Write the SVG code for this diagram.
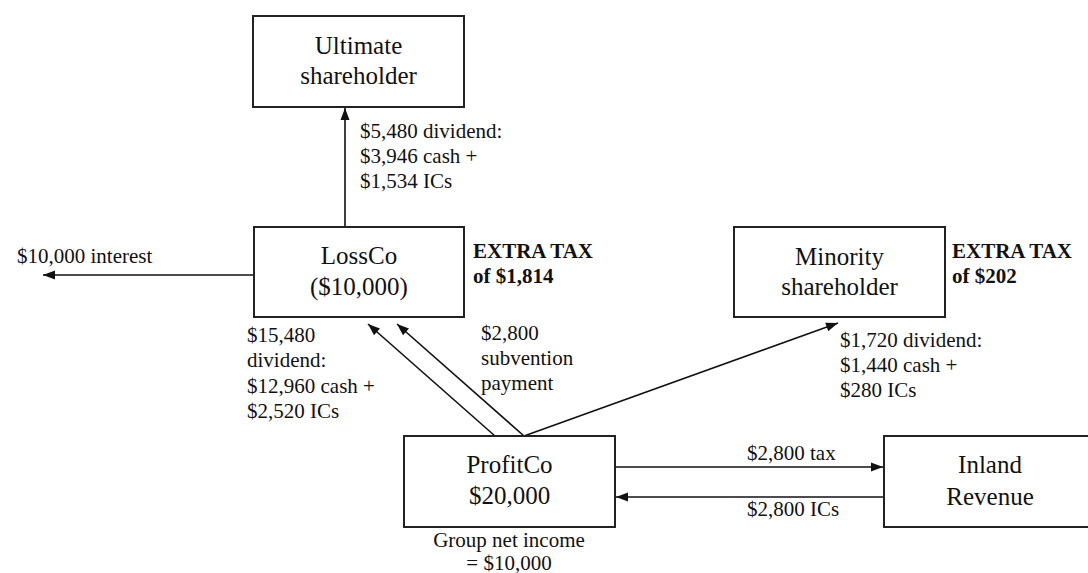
<svg xmlns="http://www.w3.org/2000/svg" width="1088" height="573" viewBox="0 0 1088 573">
  <style>
    .box { fill: #fff; stroke: #222; stroke-width: 2; }
    .node { font-family: "Liberation Serif", "Times New Roman", serif; font-size: 25px; fill: #111; text-anchor: middle; }
    .lbl { font-family: "Liberation Serif", "Times New Roman", serif; font-size: 21px; fill: #111; }
    .bold { font-weight: bold; }
    .edge { stroke: #111; stroke-width: 1.6; fill: none; marker-end: url(#arrow); }
  </style>
  <defs>
    <!-- filled triangular head, 12 long x 9 wide -->
    <marker id="arrow" viewBox="0 0 12 9" refX="12" refY="4.5" markerWidth="12" markerHeight="9" markerUnits="userSpaceOnUse" orient="auto" overflow="visible">
      <path d="M0,0 L12,4.5 L0,9 z" fill="#111"/>
    </marker>
  </defs>
  <rect width="1088" height="573" fill="#fff"/>

  <g id="connectors">
    <line class="edge" x1="345" y1="227" x2="345" y2="108"/>
    <line class="edge" x1="254" y1="275" x2="43" y2="275"/>
    <line class="edge" x1="495" y1="436" x2="368" y2="324"/>
    <line class="edge" x1="524" y1="436" x2="397" y2="324"/>
    <line class="edge" x1="524" y1="436" x2="838" y2="323"/>
    <line class="edge" x1="615" y1="467" x2="883" y2="467"/>
    <line class="edge" x1="884" y1="497" x2="616" y2="497"/>
  </g>

  <g id="ultimate-shareholder">
    <rect class="box" x="253" y="16" width="211" height="91"/>
    <text class="node" x="358.5" y="54">Ultimate</text>
    <text class="node" x="358.5" y="84">shareholder</text>
  </g>

  <g id="lossco">
    <rect class="box" x="254" y="227" width="210" height="90"/>
    <text class="node" x="359" y="264">LossCo</text>
    <text class="node" x="359" y="295">($10,000)</text>
  </g>

  <g id="minority-shareholder">
    <rect class="box" x="734" y="227" width="211" height="90"/>
    <text class="node" x="839.5" y="265">Minority</text>
    <text class="node" x="839.5" y="295">shareholder</text>
  </g>

  <g id="profitco">
    <rect class="box" x="404" y="436" width="211" height="91"/>
    <text class="node" x="509.5" y="473">ProfitCo</text>
    <text class="node" x="509.5" y="504">$20,000</text>
  </g>

  <g id="inland-revenue">
    <rect class="box" x="884" y="436" width="230" height="91"/>
    <text class="node" x="990" y="473">Inland</text>
    <text class="node" x="990" y="505">Revenue</text>
  </g>

  <g id="labels">
    <text class="lbl" x="360" y="138">$5,480 dividend:</text>
    <text class="lbl" x="360" y="163">$3,946 cash +</text>
    <text class="lbl" x="360" y="188">$1,534 ICs</text>

    <text class="lbl" x="17" y="263">$10,000 interest</text>

    <text class="lbl bold" x="473" y="258">EXTRA TAX</text>
    <text class="lbl bold" x="473" y="283">of $1,814</text>

    <text class="lbl bold" x="952" y="258">EXTRA TAX</text>
    <text class="lbl bold" x="952" y="283">of $202</text>

    <text class="lbl" x="247" y="342">$15,480</text>
    <text class="lbl" x="247" y="367">dividend:</text>
    <text class="lbl" x="247" y="393">$12,960 cash +</text>
    <text class="lbl" x="247" y="418">$2,520 ICs</text>

    <text class="lbl" x="481" y="340">$2,800</text>
    <text class="lbl" x="481" y="365">subvention</text>
    <text class="lbl" x="481" y="390">payment</text>

    <text class="lbl" x="840" y="347">$1,720 dividend:</text>
    <text class="lbl" x="840" y="372">$1,440 cash +</text>
    <text class="lbl" x="840" y="397">$280 ICs</text>

    <text class="lbl" x="747" y="460">$2,800 tax</text>
    <text class="lbl" x="747" y="516">$2,800 ICs</text>

    <text class="lbl" x="509" y="547" text-anchor="middle">Group net income</text>
    <text class="lbl" x="509" y="570" text-anchor="middle">= $10,000</text>
  </g>
</svg>
